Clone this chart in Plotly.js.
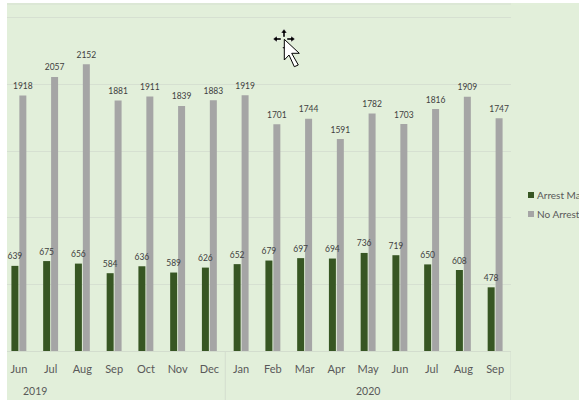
<!DOCTYPE html>
<html>
<head>
<meta charset="utf-8">
<script src="https://cdn.plot.ly/plotly-3.0.1.min.js"></script>
<style>html,body{margin:0;padding:0;background:#fff;overflow:hidden;width:579px;height:401px}</style>
</head>
<body>
<div id="chart"></div>
<script>
const months = ["Jun","Jul","Aug","Sep","Oct","Nov","Dec","Jan","Feb","Mar","Apr","May","Jun","Jul","Aug","Sep"];
const arrestMade = [639,675,656,584,636,589,626,652,679,697,694,736,719,650,608,478];
const noArrest = [1918,2057,2152,1881,1911,1839,1883,1919,1701,1744,1591,1782,1703,1816,1909,1747];
const yearLabels = ["2019","2020"];
const yearPositions = [0.5,11];
const yearDividers = [6.5,15.5];
const seriesNames = ["Arrest Made","No Arrest Made"];
const seriesColors = ["#375623","#a5a5a5"];

const W = 650, H = 401, L = 3, T = 3, R = 511, B = 351;
const idx = months.map((_, i) => i);
const px = x => (x - L) / (R - L);
const py = y => (B - y) / (B - T);
const rectPx = (x0, y0, x1, y1, c) => ({type:'rect', xref:'paper', yref:'paper', x0:px(x0), x1:px(x1), y0:py(y0), y1:py(y1), fillcolor:c, line:{width:0}, layer:'above'});
const pxShape = (pts, fill, stroke, w) => ({
  type:'path', xref:'paper', yref:'paper', xsizemode:'pixel', ysizemode:'pixel',
  xanchor:px(0), yanchor:py(0), layer:'above',
  path:'M' + pts.map(p => p[0] + ',' + (-p[1])).join('L') + 'Z',
  fillcolor:fill, line:{color:stroke, width:w}
});

const labelFont = {family:'Lato, "Open Sans", sans-serif', size:8.5, color:'#404040'};
const traces = [0,1].map(k => {
  const vals = k === 0 ? arrestMade : noArrest;
  return {
    type:'bar', name:seriesNames[k], x:idx, y:vals,
    marker:{color:seriesColors[k]},
    text:vals.map(String), textposition:'outside', textfont:labelFont,
    cliponaxis:false, constraintext:'none', hoverinfo:'skip'
  };
});

const shapes = [
  ...yearDividers.map(d => ({type:'line', xref:'x', yref:'paper', x0:d, x1:d, y0:0, y1:py(400), line:{color:'#d3ddce', width:1}})),
  {type:'line', xref:'paper', yref:'paper', x0:px(7), x1:1, y0:py(4), y1:py(4), line:{color:'#d6e0d1', width:1}},
  rectPx(0,0,7,401,'#ffffff'),
  rectPx(0,0,W,3,'#ffffff'),
  rectPx(0,400,W,401,'#ffffff'),
  pxShape([[284,29],[287,33],[285,33],[285,37],[283,37],[283,33],[281,33]],'#000','#fff',0.4),
  pxShape([[273,39],[277,36],[277,38],[281,38],[281,40],[277,40],[277,42]],'#000','#fff',0.4),
  pxShape([[295,39],[291,36],[291,38],[287,38],[287,40],[291,40],[291,42]],'#000','#fff',0.4),
  pxShape([[282,47],[284,49],[286,47]],'#000','#fff',0.4),
  pxShape([[284.3,39.3],[299.3,53.3],[291.7,53.3],[298.3,65],[294.3,66.7],[289,55],[284.3,60]],'#fff','#000',1)
];

const annotations = yearLabels.map((t, i) => ({
  text:t, xref:'x', yref:'paper', x:yearPositions[i], y:py(391), xanchor:'center', yanchor:'middle',
  showarrow:false, font:{family:'Lato, "Open Sans", sans-serif', size:10.5, color:'#595959'}
}));

const layout = {
  width:W, height:H,
  margin:{l:L, t:T, r:W-R, b:H-B, pad:0},
  paper_bgcolor:'#e2efda', plot_bgcolor:'rgba(0,0,0,0)',
  barmode:'group', bargap:0.5, bargroupgap:0.12,
  showlegend:true,
  legend:{xref:'paper', yref:'paper', x:px(497), xanchor:'left', y:py(180.5), yanchor:'top',
    bgcolor:'rgba(0,0,0,0)', font:{family:'Lato, "Open Sans", sans-serif', size:10, color:'#595959'}},
  xaxis:{type:'linear', range:[-0.5,15.5], tickmode:'array', tickvals:idx, ticktext:months,
    ticks:'outside', ticklen:8, tickcolor:'rgba(0,0,0,0)', showgrid:false, zeroline:false,
    showline:true, linecolor:'#d3ddce', linewidth:1,
    tickfont:{family:'Lato, "Open Sans", sans-serif', size:11, color:'#595959'}, automargin:false},
  yaxis:{range:[0,2612], dtick:500, showticklabels:false, ticks:'', gridcolor:'#d6e0d1', gridwidth:1,
    zeroline:false, showline:false, automargin:false},
  shapes, annotations
};

Plotly.newPlot('chart', traces, layout, {displayModeBar:false, staticPlot:true}).then(gd => {
  gd.querySelectorAll('.legend .legendpoints path').forEach(p => {
    p.setAttribute('d', 'M3,3H-3V-3H3Z');
    p.setAttribute('transform', 'translate(34,0)');
  });
  // the first series' value labels sit on top of the neighbouring bars
  const groups = gd.querySelectorAll('.barlayer .trace.bars');
  if (groups.length === 2) groups[0].parentNode.appendChild(groups[0]);
  gd.querySelectorAll('.barlayer text.bartext').forEach(t => {
    t.setAttribute('transform', (t.getAttribute('transform') || '') + ' translate(0,-1.5)');
  });
});
</script>
</body>
</html>
